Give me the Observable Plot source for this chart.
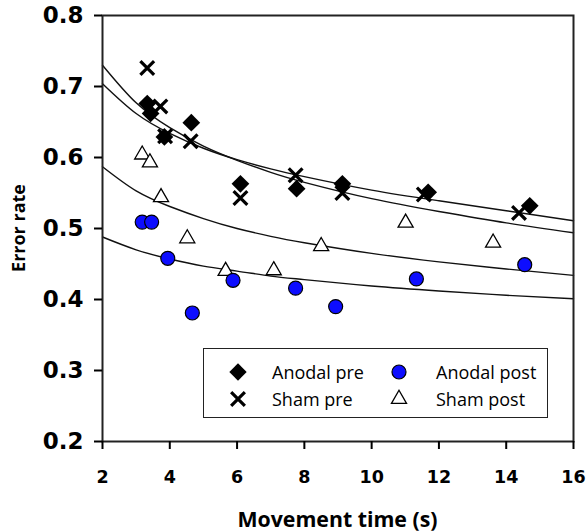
<!DOCTYPE html>
<html>
<head>
<meta charset="utf-8">
<script src="https://cdn.jsdelivr.net/npm/d3@7"></script>
<script src="https://cdn.jsdelivr.net/npm/@observablehq/plot@0.6"></script>
<style>
  html, body { margin: 0; padding: 0; background: #fff; }
  #wrap { position: relative; width: 588px; height: 532px; font-family: "Open Sans", sans-serif; }
  #legend { position: absolute; left: 203px; top: 348px; width: 343px; height: 68px; border: 1.3px solid #222; background: #fff; }
  .item { position: absolute; font-size: 18px; color: #000; display: flex; align-items: center; }
  .item svg { overflow: visible; }
  svg g[aria-label="x-axis tick label"], svg g[aria-label="x-axis tick label"] text {
    font-family: "DejaVu Sans", sans-serif !important; font-size: 17.5px !important; font-weight: bold !important;
  }
  svg g[aria-label="y-axis tick label"], svg g[aria-label="y-axis tick label"] text {
    font-family: "DejaVu Sans", sans-serif !important; font-size: 23px !important; font-weight: bold !important;
  }
</style>
</head>
<body>
<div id="wrap"><div id="legend"></div></div>
<script>
// ---- data ----
const xTicks = [2, 4, 6, 8, 10, 12, 14, 16];
const yTicks = [0.2, 0.3, 0.4, 0.5, 0.6, 0.7, 0.8];

const anodalPreX = [3.33, 3.43, 3.84, 4.64, 6.10, 7.77, 9.13, 11.68, 14.70];
const anodalPreY = [0.676, 0.662, 0.629, 0.649, 0.563, 0.556, 0.563, 0.551, 0.532];

const shamPreX = [3.33, 3.72, 3.86, 4.62, 6.10, 7.74, 9.13, 11.55, 14.38];
const shamPreY = [0.726, 0.672, 0.630, 0.623, 0.543, 0.575, 0.550, 0.548, 0.522];

const anodalPostX = [3.18, 3.46, 3.94, 4.67, 5.88, 7.74, 8.93, 11.33, 14.55];
const anodalPostY = [0.509, 0.509, 0.458, 0.381, 0.427, 0.416, 0.390, 0.429, 0.449];

const shamPostX = [3.18, 3.41, 3.74, 4.52, 5.66, 7.09, 8.50, 11.01, 13.61];
const shamPostY = [0.604, 0.593, 0.544, 0.486, 0.440, 0.441, 0.475, 0.508, 0.480];

// fitted curves
const curveX = [2, 3, 4, 5, 6, 7, 8, 10, 12, 14, 16];
const fitAnodalPre  = [0.704, 0.662, 0.634, 0.613, 0.597, 0.584, 0.573, 0.554, 0.539, 0.525, 0.511];
const fitShamPre    = [0.730, 0.677, 0.642, 0.616, 0.596, 0.579, 0.565, 0.542, 0.524, 0.508, 0.494];
const fitShamPost   = [0.587, 0.553, 0.531, 0.514, 0.500, 0.489, 0.480, 0.465, 0.453, 0.443, 0.434];
const fitAnodalPost = [0.488, 0.470, 0.457, 0.447, 0.440, 0.433, 0.428, 0.419, 0.412, 0.406, 0.401];

const legendLabels = ["Anodal pre", "Anodal post", "Sham pre", "Sham post"];
const blue = "#0d0dff";

// ---- build tables ----
const pts = (xs, ys) => xs.map((x, i) => ({x, y: ys[i]}));
const fits = [
  ["Anodal pre", fitAnodalPre], ["Sham pre", fitShamPre],
  ["Sham post", fitShamPost], ["Anodal post", fitAnodalPost]
].flatMap(([name, ys]) => curveX.map((x, i) => ({name, x, y: ys[i]})));

const chart = Plot.plot({
  width: 588,
  height: 532,
  marginLeft: 102,
  marginRight: 15,
  marginTop: 15,
  marginBottom: 91,
  style: {fontFamily: "'Open Sans', sans-serif", background: "#fff", color: "#000"},
  x: {domain: [2, 16]},
  y: {domain: [0.2, 0.8]},
  marks: [
    Plot.line(fits, {x: "x", y: "y", z: "name", curve: "natural", stroke: "#111", strokeWidth: 1.4}),
    Plot.dot(pts(shamPostX, shamPostY), {x: "x", y: "y", symbol: "triangle", r: 5.6, fill: "#fff", stroke: "#000", strokeWidth: 1.3}),
    Plot.dot(pts(anodalPostX, anodalPostY), {x: "x", y: "y", symbol: "circle", r: 7, fill: blue, stroke: "#000", strokeWidth: 1.2}),
    Plot.dot(pts(shamPreX, shamPreY), {x: "x", y: "y", symbol: "times", r: 6.3, stroke: "#000", strokeWidth: 3.2}),
    Plot.dot(pts(anodalPreX, anodalPreY), {x: "x", y: "y", symbol: "diamond2", r: 8, fill: "#000", stroke: "none"}),
    Plot.frame({stroke: "#222", strokeWidth: 2}),
    Plot.axisX({ticks: xTicks, tickSize: 8, tickPadding: 21, tickFormat: d => String(d), fontSize: 17.5, fontWeight: "bold", label: null, strokeWidth: 2}),
    Plot.axisY({ticks: yTicks, tickSize: 8, tickPadding: 11, tickFormat: d3.format(".1f"), fontSize: 23, fontWeight: "bold", label: null, strokeWidth: 2})
  ]
});
document.getElementById("wrap").prepend(chart);
chart.style.position = "absolute"; chart.style.left = "0"; chart.style.top = "0";

// axis titles, placed by the plot's own scales
const xs = chart.scale("x"), ys = chart.scale("y");
const ns = "http://www.w3.org/2000/svg";
function addTitle(text, x, y, rotate, size) {
  const t = document.createElementNS(ns, "text");
  t.textContent = text;
  t.setAttribute("text-anchor", "middle");
  t.setAttribute("dominant-baseline", "central");
  t.setAttribute("font-weight", "bold");
  t.setAttribute("font-family", "'Open Sans', sans-serif");
  t.style.fontSize = size + "px";
  t.setAttribute("transform", `translate(${x},${y}) rotate(${rotate})`);
  chart.appendChild(t);
}
const xMid = (xs.range[0] + xs.range[1]) / 2;
const yMid = (ys.range[0] + ys.range[1]) / 2;
addTitle("Movement time (s)", xMid, ys.range[0] + 77, 0, 21.3);
addTitle("Error rate", xs.range[0] - 84, yMid, -90, 18);

// ---- legend ----
const legend = document.getElementById("legend");
const legendSymbols = {
  "Anodal pre": {type: d3.symbolDiamond2, r: 7.8, fill: "#000", stroke: "none", sw: 0},
  "Anodal post": {type: d3.symbolCircle, r: 7, fill: blue, stroke: "#000", sw: 1.2},
  "Sham pre": {type: d3.symbolTimes, r: 6.3, fill: "none", stroke: "#000", sw: 3.2},
  "Sham post": {type: d3.symbolTriangle, r: 5.6, fill: "#fff", stroke: "#000", sw: 1.3}
};
const slots = [[34, 23], [195, 23], [34, 50], [195, 50]];
legendLabels.forEach((lab, i) => {
  const s = legendSymbols[lab];
  const [sx, cy] = slots[i];
  const div = document.createElement("div");
  div.className = "item";
  div.style.left = (sx - 10) + "px";
  div.style.top = (cy - 12) + "px";
  div.style.height = "24px";
  const path = d3.symbol(s.type, Math.PI * s.r * s.r)();
  div.innerHTML = `<svg width="20" height="20" viewBox="-10 -10 20 20"><path d="${path}" fill="${s.fill}" stroke="${s.stroke}" stroke-width="${s.sw}"/></svg><span style="margin-left:${i % 2 === 0 ? 24 : 27}px">${lab}</span>`;
  legend.appendChild(div);
});
</script>
</body>
</html>
